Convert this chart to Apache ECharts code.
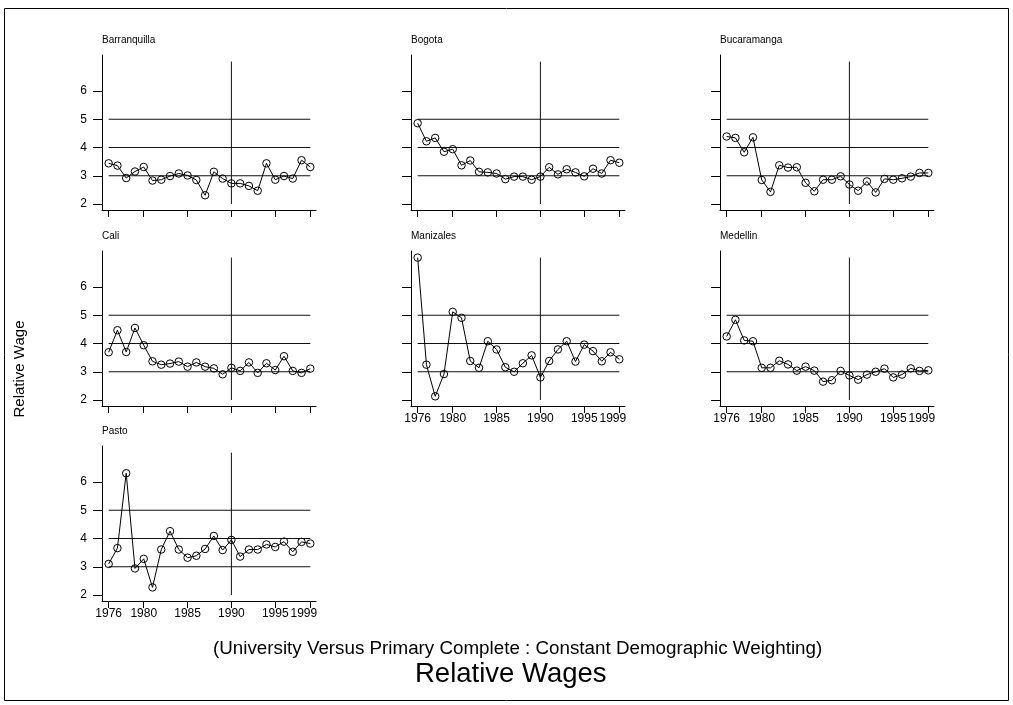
<!DOCTYPE html>
<html>
<head>
<meta charset="utf-8">
<script src="https://cdn.jsdelivr.net/npm/echarts@6/dist/echarts.min.js"></script>
<style>
html,body{margin:0;padding:0;background:#fff;}
#chart{width:1013px;height:705px;}
</style>
</head>
<body>
<div id="chart"></div>
<script>
const years = [1976,1977,1978,1979,1980,1981,1982,1983,1984,1985,1986,1987,1988,1989,1990,1991,1992,1993,1994,1995,1996,1997,1998,1999];
const barranquilla = [3.44,3.36,2.92,3.15,3.31,2.83,2.86,2.99,3.08,3.01,2.85,2.31,3.14,2.90,2.73,2.73,2.64,2.47,3.44,2.86,2.99,2.90,3.55,3.31];
const bogota = [4.86,4.22,4.34,3.85,3.94,3.37,3.54,3.14,3.12,3.08,2.88,2.97,2.97,2.86,2.97,3.30,3.05,3.23,3.12,2.98,3.25,3.08,3.55,3.46];
const bucaramanga = [4.39,4.34,3.83,4.36,2.85,2.43,3.37,3.29,3.30,2.75,2.45,2.86,2.86,2.98,2.69,2.47,2.80,2.41,2.89,2.86,2.91,2.97,3.10,3.10];
const cali = [3.69,4.47,3.70,4.55,3.94,3.37,3.25,3.29,3.36,3.18,3.33,3.18,3.12,2.91,3.14,3.03,3.33,2.96,3.30,3.06,3.55,3.03,2.96,3.11];
const manizales = [7.04,3.25,2.13,2.92,5.12,4.91,3.38,3.14,4.08,3.79,3.16,3.00,3.30,3.58,2.80,3.38,3.79,4.08,3.36,3.96,3.73,3.37,3.69,3.44];
const medellin = [4.25,4.84,4.11,4.08,3.14,3.14,3.39,3.26,3.04,3.18,3.04,2.65,2.70,3.03,2.87,2.72,2.90,3.00,3.11,2.80,2.90,3.12,3.03,3.05];
const pasto = [3.10,3.66,6.31,2.94,3.28,2.27,3.61,4.26,3.61,3.32,3.39,3.63,4.09,3.59,3.95,3.36,3.61,3.61,3.79,3.70,3.89,3.53,3.88,3.82];
const cities = ['Barranquilla','Bogota','Bucaramanga','Cali','Manizales','Medellin','Pasto'];
const cityValues = [barranquilla,bogota,bucaramanga,cali,manizales,medellin,pasto];
const yTicks = [2,3,4,5,6];
const xTicks = [1976,1980,1985,1990,1995,1999];
const refLevels = [3,4,5];
const refYear = 1990;
const refYearSpan = [2,7.04];
const yTitle = 'Relative Wage';
const subTitle = '(University Versus Primary Complete : Constant Demographic Weighting)';
const mainTitle = 'Relative Wages';

const FONT = '"Liberation Sans", Arial, Helvetica, sans-serif';
const colLeft = [102, 411, 720];
const rowTop = [55, 251, 446];
const gridW = 214, gridH = 155;
const xMin = 1975.24, xMax = 1999.65;
const yMin = 1.788, yMax = 7.274;

const showXLabels = [false,false,false,false,true,true,true];
const showYLabels = [true,false,false,true,false,false,true];

const grids = [], xAxes = [], yAxes = [], series = [], graphics = [];
const lastX = xTicks[xTicks.length - 1];

cities.forEach((name, i) => {
  const col = i % 3, row = Math.floor(i / 3);
  grids.push({left: colLeft[col], top: rowTop[row], width: gridW, height: gridH, containLabel: false});
  xAxes.push({
    type: 'value', gridIndex: i, min: xMin, max: xMax,
    axisLine: {show: true, onZero: false, lineStyle: {color: '#000', width: 1}},
    axisTick: {show: true, length: 7, customValues: xTicks, lineStyle: {color: '#000'}},
    axisLabel: {show: showXLabels[i], customValues: xTicks, margin: 7, color: '#000', fontSize: 12, fontFamily: FONT,
      formatter: v => (v === lastX ? '{s|' + v + '}' : String(v)),
      rich: {s: {fontSize: 12, fontFamily: FONT, color: '#000', padding: [0, 13, 0, 0]}}},
    splitLine: {show: false}
  });
  yAxes.push({
    type: 'value', gridIndex: i, min: yMin, max: yMax,
    axisLine: {show: true, onZero: false, lineStyle: {color: '#000', width: 1}},
    axisTick: {show: true, length: 9, customValues: yTicks, lineStyle: {color: '#000'}},
    axisLabel: {show: showYLabels[i], customValues: yTicks, margin: 15, color: '#000', fontSize: 12, fontFamily: FONT,
      formatter: v => String(v)},
    splitLine: {show: false}
  });
  refLevels.forEach(lv => {
    series.push({
      type: 'line', xAxisIndex: i, yAxisIndex: i, silent: true, symbol: 'none', animation: false,
      data: [[years[0], lv], [years[years.length - 1], lv]],
      lineStyle: {color: '#111', width: 1}, z: 1
    });
  });
  series.push({
    type: 'line', xAxisIndex: i, yAxisIndex: i, silent: true, symbol: 'none', animation: false,
    data: [[refYear, refYearSpan[0]], [refYear, refYearSpan[1]]],
    lineStyle: {color: '#111', width: 1}, z: 1
  });
  series.push({
    type: 'line', xAxisIndex: i, yAxisIndex: i, name: name, animation: false,
    data: years.map((y, k) => [y, cityValues[i][k]]),
    symbol: 'circle', symbolSize: 7.5, showAllSymbol: true,
    lineStyle: {color: '#000', width: 1},
    itemStyle: {color: 'rgba(0,0,0,0)', borderColor: '#000', borderWidth: 1},
    z: 3
  });
  graphics.push({
    type: 'text', x: colLeft[col], y: rowTop[row] - 15,
    style: {text: name, font: '10px ' + FONT, fill: '#000', align: 'left', verticalAlign: 'middle'}
  });
});

graphics.push({
  type: 'rect', shape: {x: 4.5, y: 8.5, width: 1004, height: 692},
  style: {fill: 'none', stroke: '#000', lineWidth: 1}, silent: true
});
graphics.push({
  type: 'text', x: 20, y: 369, rotation: Math.PI / 2,
  style: {text: yTitle, font: '15px ' + FONT, fill: '#000', align: 'center', verticalAlign: 'middle'}
});
graphics.push({
  type: 'text', x: 213, y: 649,
  style: {text: subTitle, font: '18.8px ' + FONT, fill: '#000', align: 'left', verticalAlign: 'middle'}
});
graphics.push({
  type: 'text', x: 415, y: 674,
  style: {text: mainTitle, font: '27.5px ' + FONT, fill: '#000', align: 'left', verticalAlign: 'middle'}
});

const chart = echarts.init(document.getElementById('chart'), null, {renderer: 'canvas'});
chart.setOption({
  animation: false,
  backgroundColor: '#fff',
  grid: grids, xAxis: xAxes, yAxis: yAxes, series: series, graphic: graphics
});
</script>
</body>
</html>
